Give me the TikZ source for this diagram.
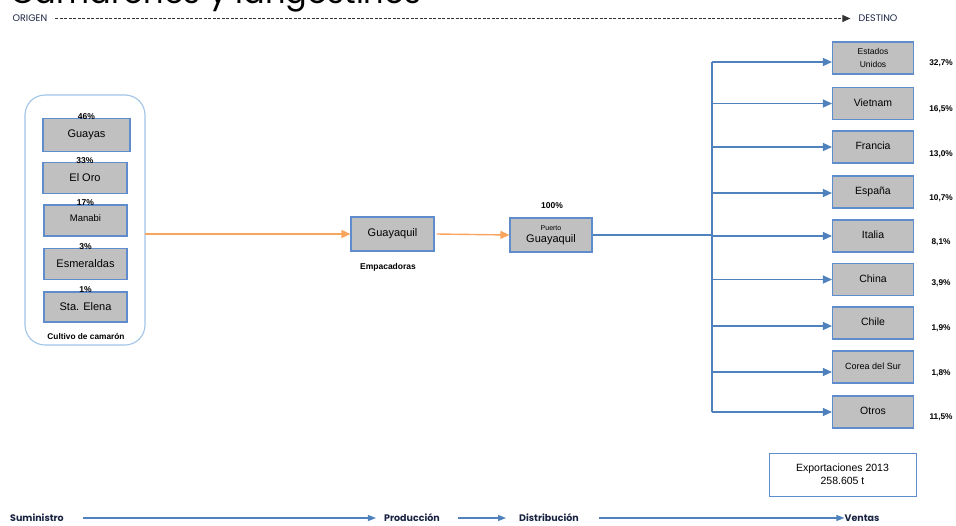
\documentclass[tikz,border=0pt]{standalone}
\usepackage{fontspec}
\setmainfont{Liberation Sans}
\newfontfamily\geo{Poppins}
\usetikzlibrary{arrows.meta}
\definecolor{boxblue}{RGB}{95,140,205}
\definecolor{boxgray}{RGB}{192,192,192}
\definecolor{linkblue}{RGB}{79,129,189}
\definecolor{linkorange}{RGB}{250,165,95}
\definecolor{roundblue}{RGB}{160,195,232}
\definecolor{navy}{RGB}{25,35,65}
\tikzset{
  srcbox/.style={draw=boxblue, fill=boxgray, line width=1.1pt, inner sep=0pt, font=\fontsize{11}{13}\selectfont},
  destbox/.style={draw=boxblue, fill=boxgray, line width=1.1pt, inner sep=0pt, minimum width=81pt, minimum height=32pt, font=\fontsize{10.5}{12}\selectfont},
  pct/.style={font=\bfseries\fontsize{8.5}{10}\selectfont, inner sep=0pt},
  small/.style={font=\bfseries\fontsize{8.3}{10}\selectfont, inner sep=0pt},
  bluelink/.style={draw=linkblue, line width=1.4pt},
  bluearrow/.style={bluelink, -{Triangle[length=9pt,width=8pt]}},
  orangearrow/.style={draw=linkorange, line width=1.4pt, -{Triangle[length=9pt,width=8pt]}},
  stage/.style={font=\geo\bfseries\fontsize{9.5}{11}\selectfont, text=navy, inner sep=0pt},
  bottomarrow/.style={draw=linkblue, line width=1.1pt, -{Triangle[length=8pt,width=6pt]}},
}
\begin{document}
\begin{tikzpicture}[x=1pt,y=-1pt]
\useasboundingbox (0,0) rectangle (956,525);
\clip (0,0) rectangle (956,525);

% title (cut off at the top)
\node[anchor=base west, inner sep=0pt, font=\geo\fontsize{32}{36}\selectfont] (title) at (10,3.5) {Camarones y langostinos};

% origin -> destination
\node[stage, font=\geo\fontsize{9.5}{10}\selectfont, text=navy] (origen) at (30,18.5) {ORIGEN};
\node[stage, font=\geo\fontsize{9.5}{10}\selectfont, text=navy] (destino) at (878,18.5) {DESTINO};
\draw[black!80, line width=0.9pt, dash pattern=on 3pt off 1.5pt, -{Triangle[length=8pt,width=7pt]}] ([xshift=8pt]origen.east) -- ([xshift=-8pt]destino.west);

% cultivation group
\draw[roundblue, line width=1.1pt, rounded corners=20pt] (25,95) rectangle (145,345);
\coordinate (cultE) at (145,220);
\node[srcbox, minimum width=87pt, minimum height=33pt] (guayas) at (86.5,135) {Guayas};
\node[srcbox, minimum width=84pt, minimum height=31pt] (eloro) at (85,178) {El Oro};
\node[srcbox, minimum width=83pt, minimum height=31pt, font=\fontsize{9.5}{11}\selectfont] (manabi) at (85.5,220.5) {\raisebox{4pt}{Manabi}};
\node[srcbox, minimum width=83pt, minimum height=31pt] (esmeraldas) at (85.5,264) {Esmeraldas};
\node[srcbox, minimum width=83pt, minimum height=30pt] (staelena) at (85.5,307) {Sta. Elena};
\node[pct] at ([yshift=1.5pt]guayas.north) {46\%};
\node[pct] at ([yshift=1.5pt]eloro.north) {33\%};
\node[pct] at ([yshift=1.5pt]manabi.north) {17\%};
\node[pct] at ([yshift=1.5pt]esmeraldas.north) {3\%};
\node[pct] at ([yshift=1.5pt]staelena.north) {1\%};
\node[small] (cultivo) at (86,336) {Cultivo de camarón};

% packing and port
\node[srcbox, minimum width=83pt, minimum height=34pt] (guayaquil) at (392.5,234) {Guayaquil};
\node[small, font=\bfseries\fontsize{8.5}{10}\selectfont] (empacadoras) at (388,267) {Empacadoras};
\node[srcbox, minimum width=82pt, minimum height=34pt, align=center] (puerto) at (551,235) {{\fontsize{7}{8}\selectfont Puerto}\\[-1pt]Guayaquil};
\node[pct] (cien) at (552,206) {100\%};

\draw[orangearrow] (cultE |- guayaquil.west) -- (guayaquil.west);
\draw[orangearrow] ([xshift=2pt]guayaquil.east) -- (puerto.west);

% destinations
\coordinate (trunk) at (712,0);
\node[destbox, align=center, font=\fontsize{8.5}{13}\selectfont] (eeuu) at (873,58) {Estados\\Unidos};
\node[destbox] (vietnam) at (873,103.5) {\raisebox{2pt}{Vietnam}};
\node[destbox] (francia) at (873,147) {\raisebox{2pt}{Francia}};
\node[destbox] (espana) at (873,192) {\raisebox{2pt}{España}};
\node[destbox] (italia) at (873,236) {\raisebox{2pt}{Italia}};
\node[destbox] (china) at (873,279.5) {\raisebox{2pt}{China}};
\node[destbox] (chile) at (873,323) {\raisebox{2pt}{Chile}};
\node[destbox, font=\fontsize{9}{11}\selectfont] (corea) at (873,367) {\raisebox{2pt}{Corea del Sur}};
\node[destbox] (otros) at (873,412) {\raisebox{2pt}{Otros}};

\foreach \n/\p/\dy in {eeuu/32{,}7\%/-5, vietnam/16{,}5\%/-5.5, francia/13{,}0\%/-7, espana/10{,}7\%/-6, italia/8{,}1\%/-6, china/3{,}9\%/-3.5, chile/1{,}9\%/-5, corea/1{,}8\%/-6, otros/11{,}5\%/-5} {
  \node[pct, font=\bfseries\fontsize{8.3}{10}\selectfont] at ([xshift=27pt,yshift=\dy pt]\n.east) {\p};
}

\draw[bluelink] (puerto.east) -- (trunk |- puerto.east);
\draw[bluelink] ([yshift=-4pt]trunk |- eeuu.west) -- (trunk |- otros.west);
\foreach \n/\dy in {eeuu/-4, vietnam/0, francia/0, espana/-1, italia/0, china/0, chile/-3, corea/-5, otros/0} {
  \draw[bluearrow] ([yshift=\dy pt]trunk |- \n.west) -- ([yshift=\dy pt]\n.west);
}

% exports box
\node[draw=boxblue, line width=1pt, minimum width=147pt, minimum height=43pt, align=center, inner sep=0pt, font=\fontsize{10.5}{13}\selectfont] (export) at (842.5,474.5) {Exportaciones 2013\\258.605 t};

% value chain
\node[stage] (suministro) at (37,518) {Suministro};
\node[stage] (produccion) at (412,518) {Producción};
\node[stage] (distribucion) at (549,518) {Distribución};
\node[stage] (ventas) at (862,518) {Ventas};
\draw[bottomarrow] ([xshift=19pt]suministro.east) -- ([xshift=-8pt]produccion.west);
\draw[bottomarrow] ([xshift=18pt]produccion.east) -- ([xshift=-13pt]distribucion.west);
\draw[bottomarrow] ([xshift=20pt]distribucion.east) -- ([xshift=0pt]ventas.west);
\end{tikzpicture}
\end{document}
